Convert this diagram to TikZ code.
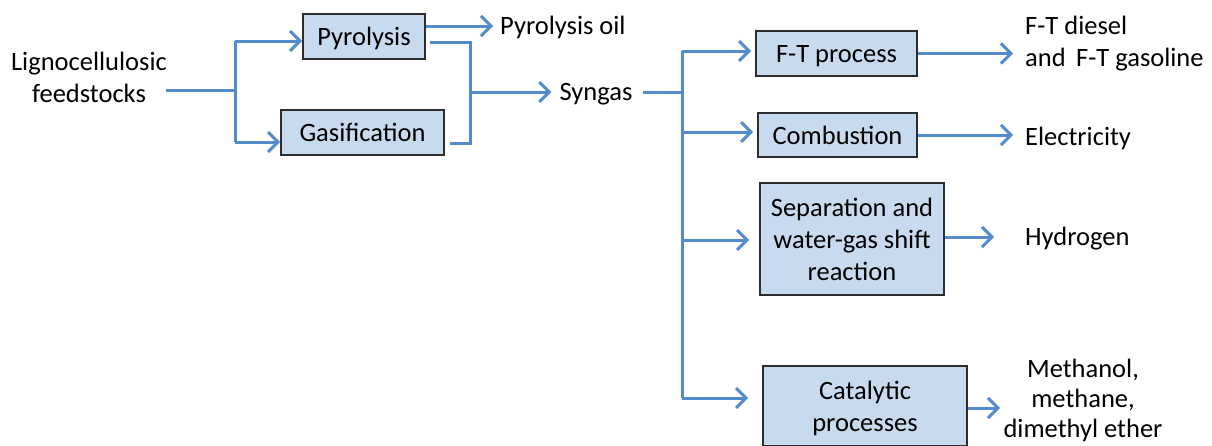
\documentclass[tikz,border=0pt]{standalone}
\usepackage{fontspec}
\setmainfont{Carlito}
\usetikzlibrary{arrows.meta,calc}
\definecolor{flow}{RGB}{84,139,204}
\definecolor{boxfill}{RGB}{200,218,238}
\definecolor{boxline}{RGB}{45,45,45}
\tikzset{
  box/.style={draw=boxline, fill=boxfill, line width=1.6pt, inner sep=0pt, align=center, text depth=0pt, font=\fontsize{26.5}{32}\selectfont},
  lbl/.style={inner sep=0pt, align=center, font=\fontsize{26.5}{32}\selectfont},
  lbll/.style={lbl, align=left},
  wire/.style={draw=flow, line width=3pt},
  arr/.style={wire, -{Straight Barb[length=10pt,width=20pt,line width=3pt]}},
}
\begin{document}
\begin{tikzpicture}[x=1pt,y=-1pt]
\useasboundingbox (0,0) rectangle (1212,445);
% input
\node[lbl] (feed) at (89,77) {Lignocellulosic\\feedstocks};
% first stage boxes
\node[box, minimum width=122pt, minimum height=45pt] (pyr) at (364,36.5) {Pyrolysis};
\node[box, minimum width=163pt, minimum height=45pt] (gas) at (362.5,132.5) {Gasification};
% intermediate products
\node[lbl, anchor=west] (oil) at (500,27) {Pyrolysis oil};
\node[lbl] (syn) at (596,94) {Syngas};
% second stage boxes
\node[box, minimum width=161pt, minimum height=45pt] (ft) at (836.5,53.5) {F-T process};
\node[box, minimum width=159pt, minimum height=44pt] (comb) at (837.5,135) {Combustion};
\node[box, minimum width=184pt, minimum height=112pt] (sep) at (852,239) {Separation and\\water-gas shift\\reaction};
\node[box, minimum width=204pt, minimum height=80pt] (cat) at (865,406) {Catalytic\\processes};
% final products
\node[lbll, anchor=west] (ftp) at (1025,44) {F-T diesel\\and\, F-T gasoline};
\node[lbl, anchor=west] (elec) at (1025,138) {Electricity};
\node[lbl, anchor=west] (hyd) at (1025,239) {Hydrogen};
\node[lbl, font=\fontsize{26.5}{30}\selectfont] (meth) at (1083,400) {Methanol,\\methane,\\dimethyl ether};
% junction coordinates
\coordinate (fout) at (166,90);
\coordinate (j1) at (235,90);
\coordinate (j1t) at (235,41);
\coordinate (j1b) at (235,142);
\coordinate (pyrout) at (430,42);
\coordinate (j2t) at (470,42);
\coordinate (j2m) at (470,92);
\coordinate (j2b) at (470,143);
\coordinate (gasout) at (450,143);
\coordinate (sout) at (643,92);
\coordinate (j3m) at (682,92);
\coordinate (j3a) at (682,51);
\coordinate (j3b) at (682,132);
\coordinate (j3c) at (682,240);
\coordinate (j3d) at (682,398);
% connectors stage 1
\draw[wire] (fout) -- (j1);
\draw[wire] (j1t) -- (j1b);
\draw[arr] (j1t) -- (pyr.west |- j1t);
\draw[arr] (j1b) -- (gas.west |- j1b);
% pyrolysis oil
\coordinate (oily) at (0,26);
\draw[arr] (pyr.east |- oily) -- ([xshift=-7pt]oil.west |- oily);
% to syngas
\draw[wire] (pyrout) -- (j2t) -- (j2b) -- (gasout);
\draw[arr] (j2m) -- ([xshift=-8pt]syn.west |- j2m);
% syngas distribution
\draw[wire] (sout) -- (j3m);
\draw[wire] (j3a) -- (j3d);
\draw[arr] (j3a) -- ([xshift=-4pt]ft.west |- j3a);
\draw[arr] (j3b) -- ([xshift=-4pt]comb.west |- j3b);
\draw[arr] (j3c) -- ([xshift=-10pt]sep.west |- j3c);
\draw[arr] (j3d) -- ([xshift=-14pt]cat.west |- j3d);
% outputs
\draw[arr] (ft.east) -- ([xshift=-12pt]ftp.west |- ft.east);
\draw[arr] (comb.east) -- ([xshift=-12pt]elec.west |- comb.east);
\coordinate (hy) at (0,237);
\draw[arr] (sep.east |- hy) -- ([xshift=-31pt]hyd.west |- hy);
\coordinate (my) at (0,408);
\draw[arr] (cat.east |- my) -- ([xshift=-25pt]hyd.west |- my);
\end{tikzpicture}
\end{document}
